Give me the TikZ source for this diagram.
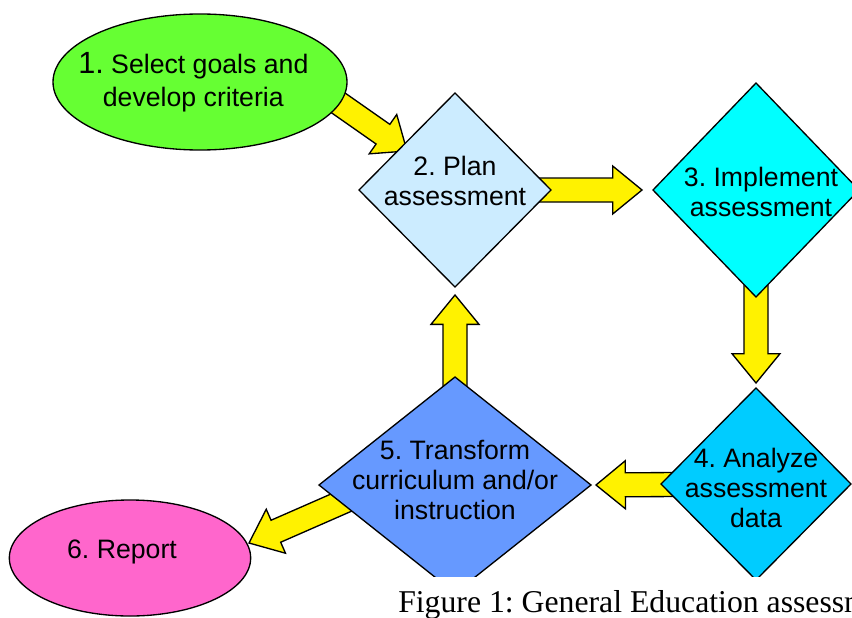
\documentclass[tikz,border=0pt]{standalone}
\usepackage{fontspec}
\setmainfont{Liberation Sans}
\newfontfamily\captionserif{Liberation Serif}
\usetikzlibrary{shapes.geometric, calc, backgrounds}
\frenchspacing

\definecolor{goalgreen}{HTML}{66FF33}
\definecolor{planblue}{HTML}{CCECFF}
\definecolor{implcyan}{HTML}{00FFFF}
\definecolor{analyzeblue}{HTML}{00CCFF}
\definecolor{transblue}{HTML}{6699FF}
\definecolor{reportpink}{HTML}{FF66CC}

% fat yellow arrow from #1 to its tip #2
\newcommand{\blockarrow}[2]{%
	\coordinate (ba-s) at #1;
	\coordinate (ba-t) at #2;
	\coordinate (ba-b) at ($(ba-t)!22pt!(ba-s)$);
	\draw[blockarr] ($(ba-s)!9pt!90:(ba-t)$) -- ($(ba-b)!9pt!-90:(ba-s)$)
		-- ($(ba-b)!18pt!-90:(ba-s)$) -- (ba-t) -- ($(ba-b)!18pt!90:(ba-s)$)
		-- ($(ba-b)!9pt!90:(ba-s)$) -- ($(ba-s)!9pt!-90:(ba-t)$) -- cycle;
}

\begin{document}
\begin{tikzpicture}[x=0.75pt,y=-0.75pt,
		stepdiamond/.style={diamond, draw, line width=1pt, inner sep=0pt, outer sep=0pt},
		stepoval/.style={ellipse, draw, line width=1pt, inner sep=0pt, outer sep=0pt},
		steptext/.style={font=\fontsize{20}{22.5}\selectfont, align=center, inner sep=0pt},
		blockarr/.style={draw, fill=yellow, line width=1pt, line join=miter},
		captiontext/.style={font=\captionserif\fontsize{23.8}{28}\selectfont, inner sep=0pt}]
				\useasboundingbox (0,0) rectangle (852,617);
				\clip (0,0) rectangle (852,617);
				\node[stepoval, fill=goalgreen, minimum width=220.5pt, minimum height=102pt,
					label={[steptext, xshift=-5pt]center:{{\fontsize{23}{22.5}\selectfont 1.} Select goals and\\[2.25pt]develop criteria}}] (goals) at (200,82) {};
				\node[stepdiamond, fill=planblue, minimum width=144pt, minimum height=145.5pt,
					label={[steptext, yshift=7pt]center:{2. Plan\\assessment}}] (plan) at (455,190) {};
				\node[stepdiamond, fill=implcyan, minimum width=154.5pt, minimum height=160.5pt,
					label={[steptext, xshift=3.75pt, yshift=-1.5pt]center:{3. Implement\\assessment}}] (implement) at (756,190) {};
				\begin{scope}
					\clip (0,0) rectangle (852,576);
					\node[stepdiamond, fill=analyzeblue, minimum width=142.5pt, minimum height=144pt,
						label={[steptext, yshift=-3.2pt]center:{4. Analyze\\assessment\\data}}] (analyze) at (756,484) {};
					\node[stepdiamond, fill=transblue, minimum width=204pt, minimum height=162pt,
						label={[steptext, yshift=3.5pt]center:{5. Transform\\curriculum and/or\\instruction}}] (transform) at (455,485) {};
				\end{scope}
				\node[stepoval, fill=reportpink, minimum width=181pt, minimum height=87pt,
					label={[steptext, xshift=-6pt, yshift=4.3pt]center:{6. Report}}] (report) at (130,558) {};
				\node[captiontext, anchor=base west] (caption) at (398,612.5) {Figure 1: General Education assessment};
				\begin{scope}[on background layer]
					\blockarrow{($(goals)+(127,13)$)}{($(plan)+(-48,-39)$)}
					\blockarrow{(plan)}{($(implement.west)+(-11,0)$)}
					\blockarrow{(implement)}{($(analyze.north)+(0,-5)$)}
					\blockarrow{(analyze)}{($(transform.east)+(5,0)$)}
					\blockarrow{(transform)}{($(plan.south)+(0,8)$)}
					\blockarrow{($(transform)+(-69,-2)$)}{($(report)+(119,-15)$)}
				\end{scope}
			\end{tikzpicture}
\end{document}
